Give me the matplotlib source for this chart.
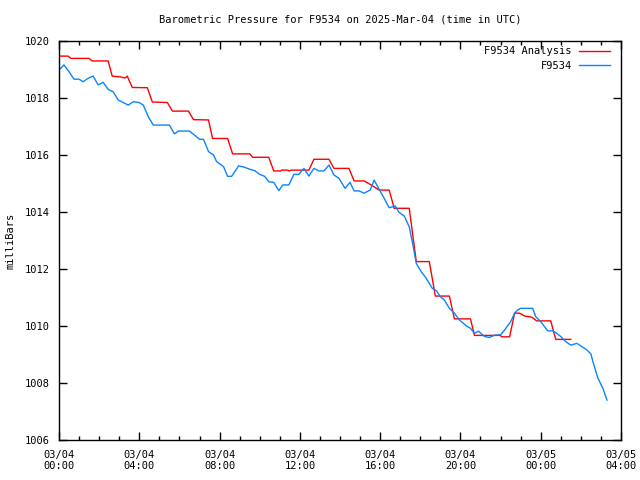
import matplotlib
matplotlib.use("Agg")
from matplotlib import pyplot as plt
from matplotlib.ticker import MultipleLocator

# hours since 2025-03-04 00:00 UTC
ANALYSIS_HOURS = [0, 0.45, 0.6, 1.5, 1.65, 2.45, 2.65, 3.05, 3.3, 3.4, 3.65, 4.4, 4.65, 5.4,
                  5.65, 6.45, 6.7, 7.45, 7.65, 8.4, 8.65, 9.5, 9.65, 10.45, 10.7, 11.05, 11.1,
                  11.4, 11.45, 11.6, 12.45, 12.7, 13.45, 13.7, 14.45, 14.7, 15.2, 15.55, 15.95,
                  16.45, 16.7, 17.45, 17.8, 18.45, 18.75, 19.45, 19.7, 20.5, 20.7, 22.0, 22.05,
                  22.45, 22.7, 22.95, 23.2, 23.55, 23.8, 24.5, 24.75, 25.5]
ANALYSIS_MB = [1019.47, 1019.47, 1019.39, 1019.39, 1019.30, 1019.30, 1018.77, 1018.74, 1018.70,
               1018.77, 1018.37, 1018.36, 1017.86, 1017.84, 1017.54, 1017.54, 1017.24, 1017.23,
               1016.58, 1016.58, 1016.04, 1016.04, 1015.92, 1015.92, 1015.44, 1015.44, 1015.47,
               1015.47, 1015.44, 1015.47, 1015.47, 1015.85, 1015.85, 1015.53, 1015.53, 1015.09,
               1015.09, 1014.95, 1014.77, 1014.77, 1014.13, 1014.13, 1012.26, 1012.26, 1011.05,
               1011.05, 1010.25, 1010.25, 1009.67, 1009.67, 1009.62, 1009.62, 1010.45, 1010.45,
               1010.35, 1010.31, 1010.18, 1010.18, 1009.53, 1009.53]

STATION_HOURS = [0, 0.25, 0.5, 0.75, 1.0, 1.2, 1.45, 1.7, 1.95, 2.2, 2.45, 2.7, 2.95, 3.2, 3.45,
                 3.7, 4.0, 4.2, 4.45, 4.7, 5.5, 5.75, 5.95, 6.5, 6.75, 7.0, 7.2, 7.45, 7.7, 7.85,
                 8.2, 8.4, 8.6, 8.95, 9.25, 9.5, 9.75, 10.0, 10.25, 10.45, 10.7, 10.95, 11.15,
                 11.45, 11.7, 11.95, 12.2, 12.45, 12.7, 12.95, 13.2, 13.45, 13.7, 13.95, 14.25,
                 14.5, 14.7, 14.95, 15.2, 15.5, 15.7, 15.95, 16.2, 16.45, 16.75, 16.95, 17.2,
                 17.45, 17.65, 17.8, 18.05, 18.3, 18.6, 18.8, 19.0, 19.2, 19.45, 19.7, 19.95,
                 20.3, 20.5, 20.7, 20.9, 21.2, 21.45, 21.7, 22.0, 22.2, 22.5, 22.7, 22.85, 23.0,
                 23.6, 23.75, 24.0, 24.35, 24.6, 24.8, 25.0, 25.25, 25.5, 25.8, 26.0, 26.3, 26.5,
                 26.6, 26.85, 27.1, 27.3]
STATION_MB = [1018.98, 1019.16, 1018.92, 1018.66, 1018.66, 1018.57, 1018.69, 1018.77, 1018.46,
              1018.55, 1018.30, 1018.22, 1017.93, 1017.84, 1017.75, 1017.87, 1017.84, 1017.75,
              1017.34, 1017.05, 1017.05, 1016.74, 1016.84, 1016.84, 1016.70, 1016.55, 1016.55,
              1016.12, 1016.0, 1015.77, 1015.59, 1015.25, 1015.25, 1015.62, 1015.57, 1015.5,
              1015.45, 1015.32, 1015.25, 1015.06, 1015.04, 1014.75, 1014.95, 1014.95, 1015.32,
              1015.32, 1015.53, 1015.26, 1015.53, 1015.44, 1015.44, 1015.65, 1015.3, 1015.18,
              1014.83, 1015.04, 1014.74, 1014.74, 1014.66, 1014.77, 1015.12, 1014.8, 1014.48,
              1014.15, 1014.21, 1013.98, 1013.86, 1013.48, 1012.78, 1012.2, 1011.9, 1011.67,
              1011.32, 1011.24, 1011.03, 1010.91, 1010.62, 1010.45, 1010.21, 1010.0, 1009.92,
              1009.74, 1009.82, 1009.63, 1009.6, 1009.68, 1009.69, 1009.86, 1010.15, 1010.45,
              1010.56, 1010.62, 1010.62, 1010.33, 1010.15, 1009.83, 1009.83, 1009.74, 1009.63,
              1009.45, 1009.33, 1009.39, 1009.3, 1009.16, 1009.02, 1008.75, 1008.17, 1007.81,
              1007.4]

X_TICKS = [0, 4, 8, 12, 16, 20, 24, 28]
X_LABELS = ["03/04\n00:00", "03/04\n04:00", "03/04\n08:00", "03/04\n12:00",
            "03/04\n16:00", "03/04\n20:00", "03/05\n00:00", "03/05\n04:00"]
Y_TICKS = [1006, 1008, 1010, 1012, 1014, 1016, 1018, 1020]


def main():
    plt.rcParams['font.family'] = ['DejaVu Sans Mono']
    plt.rcParams['font.size'] = 7.5

    fig = plt.figure(figsize=(6.4, 4.8), dpi=100)
    ax = fig.add_axes([59 / 640, 40 / 480, 562 / 640, 399 / 480])

    ax.plot(ANALYSIS_HOURS, ANALYSIS_MB, color='#ff0000', lw=1.0, label='F9534 Analysis')
    ax.plot(STATION_HOURS, STATION_MB, color='#0a84ff', lw=1.0, label='F9534')

    ax.set_xlim(0, 28)
    ax.set_ylim(1006, 1020)
    ax.set_xticks(X_TICKS)
    ax.set_xticklabels(X_LABELS)
    ax.xaxis.set_minor_locator(MultipleLocator(1))
    ax.set_yticks(Y_TICKS)
    ax.tick_params(which='both', direction='in', top=True, right=True, width=1.0)
    ax.tick_params(which='major', length=6, pad=7)
    ax.tick_params(which='minor', length=3)
    for s in ax.spines.values():
        s.set_linewidth(1.0)

    ax.set_title("Barometric Pressure for F9534 on 2025-Mar-04 (time in UTC)",
                 fontsize=7.5, pad=13)
    ax.set_ylabel("milliBars", labelpad=6)

    ax.legend(loc='upper right', bbox_to_anchor=(0.99, 1.0), frameon=False,
              markerfirst=False, handlelength=3.0, labelspacing=0.45, borderaxespad=0.1,
              handletextpad=0.7, fontsize=7.5)

    fig.savefig('out.png', dpi=100)


if __name__ == '__main__':
    main()
